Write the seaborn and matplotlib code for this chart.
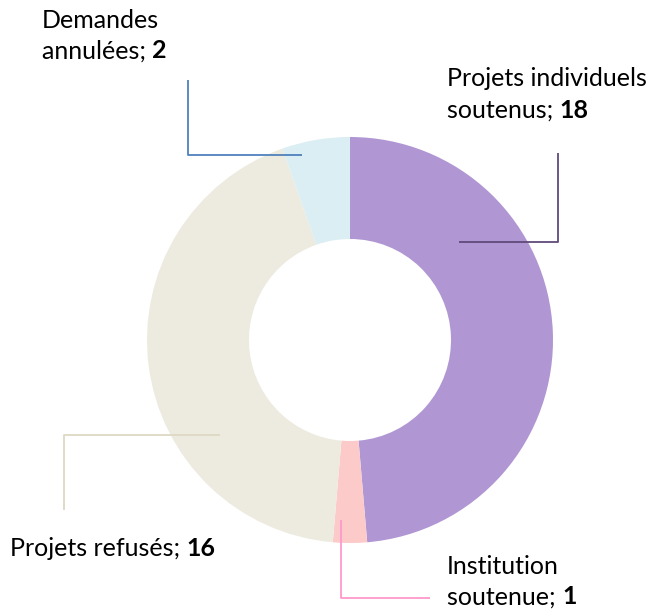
import matplotlib
matplotlib.use("Agg")
import matplotlib.pyplot as plt
import seaborn as sns

# donut data
labels = ["Projets individuels\nsoutenus", "Institution\nsoutenue", "Projets refusés", "Demandes\nannulées"]
values = [18, 1, 16, 2]
colors = ["#B097D3", "#FCCAC9", "#EDEBE0", "#DAEEF3"]
line_colors = ["#604A7B", "#FF99CC", "#DDD9C3", "#4F81BD"]

sns.set_theme(style="white")
plt.rcParams['font.family'] = ['Lato', 'DejaVu Sans']

fig = plt.figure(figsize=(6.58, 6.10), dpi=100)
ax = fig.add_axes([0, 0, 1, 1])

# y axis is inverted, so counterclockwise in data = clockwise on screen
ax.pie(values, colors=colors, center=(350, 340), radius=203, startangle=270,
       counterclock=True, wedgeprops=dict(width=102, linewidth=0),
       frame=True)
ax.set_xlim(0, 658)
ax.set_ylim(610, 0)
ax.set_aspect('equal')
ax.axis('off')

# leader lines (elbow) per slice
leaders = [
    [(459, 242), (558, 242), (558, 153)],
    [(341, 520), (341, 598), (430, 598)],
    [(220, 435), (64, 435), (64, 510)],
    [(302, 155), (188, 155), (188, 80)],
]
for pts, c in zip(leaders, line_colors):
    xs = [p[0] for p in pts]
    ys = [p[1] for p in pts]
    ax.plot(xs, ys, color=c, lw=1.3, solid_capstyle='butt')

# label text positions (left x, centre y of first line)
label_pos = [(447, 79), (447, 566), (10, 548), (42, 20)]
fs = 18
line_h = 31

fig.canvas.draw()
renderer = fig.canvas.get_renderer()
for (x, y), lab, v in zip(label_pos, labels, values):
    parts = lab.split("\n")
    for i, p in enumerate(parts):
        yy = y + i * line_h
        if i < len(parts) - 1:
            ax.text(x, yy, p, fontsize=fs, ha='left', va='center', color='black')
        else:
            t = ax.text(x, yy, p + "; ", fontsize=fs, ha='left', va='center', color='black')
            bb = t.get_window_extent(renderer=renderer)
            x_end = ax.transData.inverted().transform((bb.x1, bb.y0))[0]
            ax.text(x_end, yy, str(v), fontsize=fs, fontweight='bold', ha='left',
                    va='center', color='black')

fig.savefig("out.png", dpi=100)
